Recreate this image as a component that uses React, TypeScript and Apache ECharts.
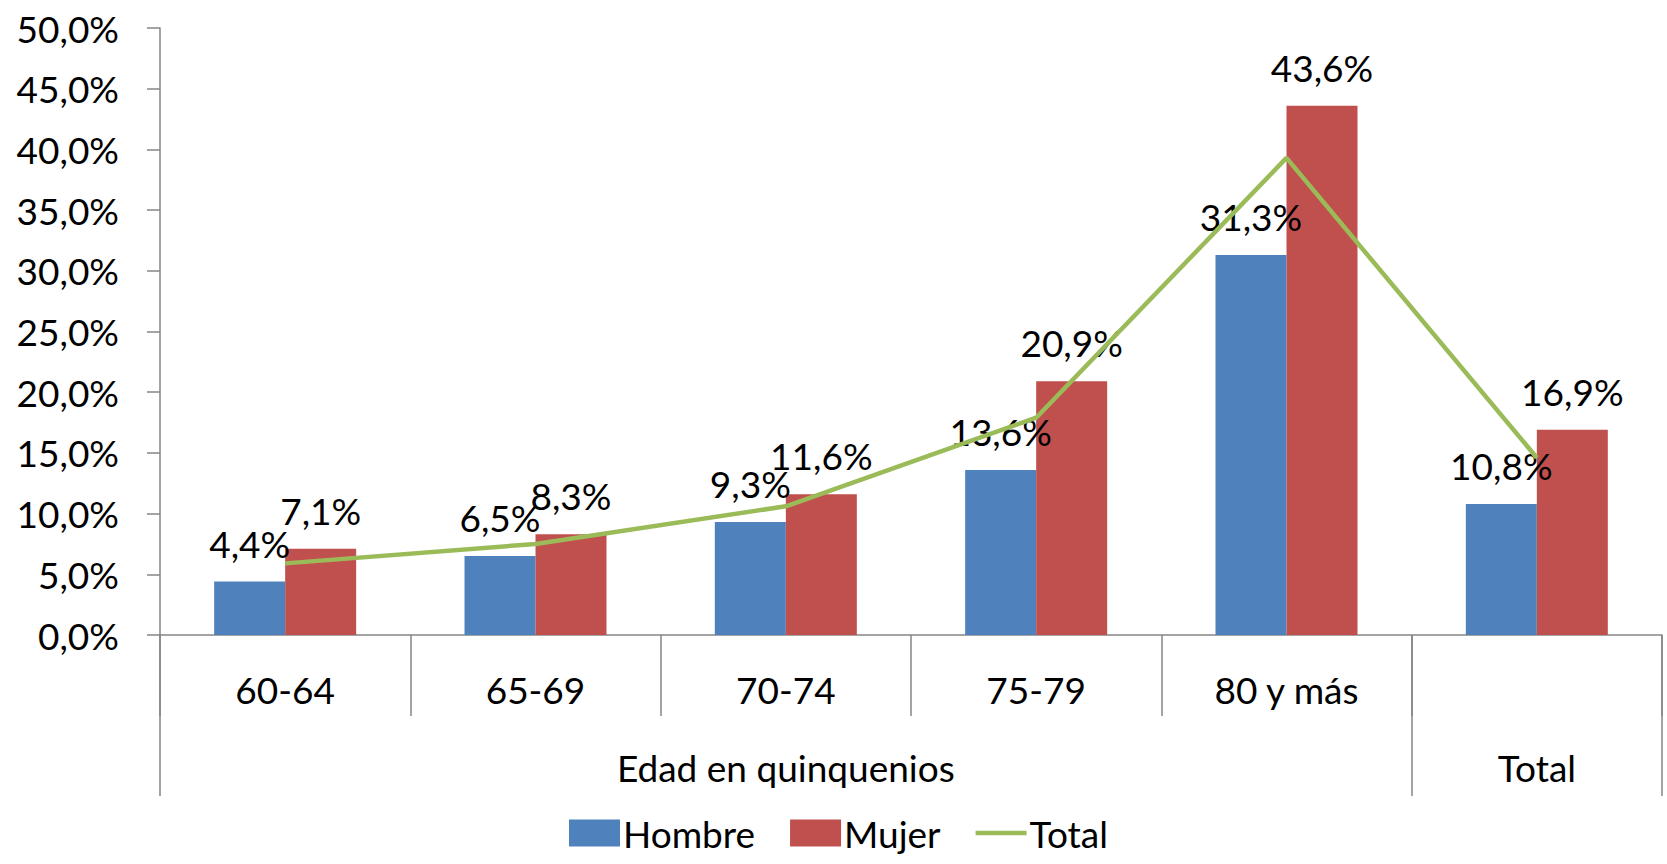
import React, { useEffect, useRef } from "react";
import * as echarts from "echarts";

const categories = ["60-64", "65-69", "70-74", "75-79", "80 y más", "Total"];
const categoryTickLabels = ["60-64", "65-69", "70-74", "75-79", "80 y más", ""];
const hombre = [4.4, 6.5, 9.3, 13.6, 31.3, 10.8];
const mujer = [7.1, 8.3, 11.6, 20.9, 43.6, 16.9];
const total = [5.9, 7.5, 10.6, 17.9, 39.3, 14.6];
const groupLabels = ["Edad en quinquenios", "Total"];
const groupCenters = [2.5, 5.5];
const groupBounds = [0, 5, 6];

const FONT = "Lato";
const FS = 37;
const AXIS_COLOR = "#868686";

const pct = (v: number) => v.toFixed(1).replace(".", ",") + "%";

export default function App() {
  const ref = useRef<HTMLDivElement>(null);
  useEffect(() => {
    if (!ref.current) return;
    const chart = echarts.init(ref.current, undefined, { renderer: "svg" });
    const labelStyle = {
      show: true,
      position: "top" as const,
      distance: 20,
      color: "#000",
      fontFamily: FONT,
      fontSize: FS,
      formatter: (p: any) => pct(p.value),
    };
    chart.setOption({
      animation: false,
      textStyle: { fontFamily: FONT },
      grid: { left: 160, right: 5, top: 28, bottom: 229, containLabel: false },
      legend: {
        left: 564,
        bottom: 6,
        itemWidth: 51,
        itemHeight: 27,
        itemGap: 35,
        textStyle: { fontFamily: FONT, fontSize: FS, lineHeight: 40, color: "#000", padding: [0, 0, 0, -2] },
        data: [
          { name: "Hombre", icon: "rect" },
          { name: "Mujer", icon: "rect" },
          { name: "Total", icon: "path://M0,0 H100 V9 H0 Z" },
        ],
      },
      xAxis: [
        {
          type: "category",
          data: categories,
          position: "bottom",
          axisLine: { show: true, lineStyle: { color: AXIS_COLOR, width: 1.5 } },
          axisTick: { show: true, interval: 0, length: 81, lineStyle: { color: AXIS_COLOR, width: 1.5 } },
          axisLabel: {
            interval: 0,
            margin: 36,
            color: "#000",
            fontFamily: FONT,
            fontSize: FS,
            formatter: (_v: string, i: number) => categoryTickLabels[i],
          },
          splitLine: { show: false },
        },
        {
          type: "value",
          min: 0,
          max: 6,
          position: "bottom",
          axisLine: { show: false },
          axisTick: {
            show: true,
            customValues: groupBounds,
            length: 161,
            lineStyle: { color: AXIS_COLOR, width: 1.5 },
          },
          axisLabel: {
            customValues: groupCenters,
            margin: 114,
            color: "#000",
            fontFamily: FONT,
            fontSize: FS,
            formatter: (v: number) => {
              const i = groupCenters.indexOf(v);
              return i >= 0 ? groupLabels[i] : "";
            },
          },
          splitLine: { show: false },
        },
      ],
      yAxis: {
        type: "value",
        min: 0,
        max: 50,
        interval: 5,
        axisLine: { show: true, lineStyle: { color: AXIS_COLOR, width: 1.5 } },
        axisTick: { show: true, length: 13, lineStyle: { color: AXIS_COLOR, width: 1.5 } },
        axisLabel: {
          margin: 41,
          color: "#000",
          fontFamily: FONT,
          fontSize: FS,
          formatter: (v: number) => pct(v),
        },
        splitLine: { show: false },
      },
      series: [
        {
          name: "Hombre",
          type: "bar",
          data: hombre,
          barWidth: 71,
          barGap: "0%",
          itemStyle: { color: "#4F81BD" },
          label: labelStyle,
        },
        {
          name: "Mujer",
          type: "bar",
          data: mujer,
          barWidth: 71,
          barGap: "0%",
          itemStyle: { color: "#C0504D" },
          label: labelStyle,
        },
        {
          name: "Total",
          type: "line",
          data: total,
          symbol: "none",
          showSymbol: false,
          lineStyle: { color: "#9BBB59", width: 4.5 },
          itemStyle: { color: "#9BBB59" },
          z: 5,
        },
      ],
    });
    return () => chart.dispose();
  }, []);
  return (
    <div
      ref={ref}
      style={{ position: "fixed", left: 0, top: 0, width: 1667, height: 864, background: "#fff" }}
    />
  );
}
